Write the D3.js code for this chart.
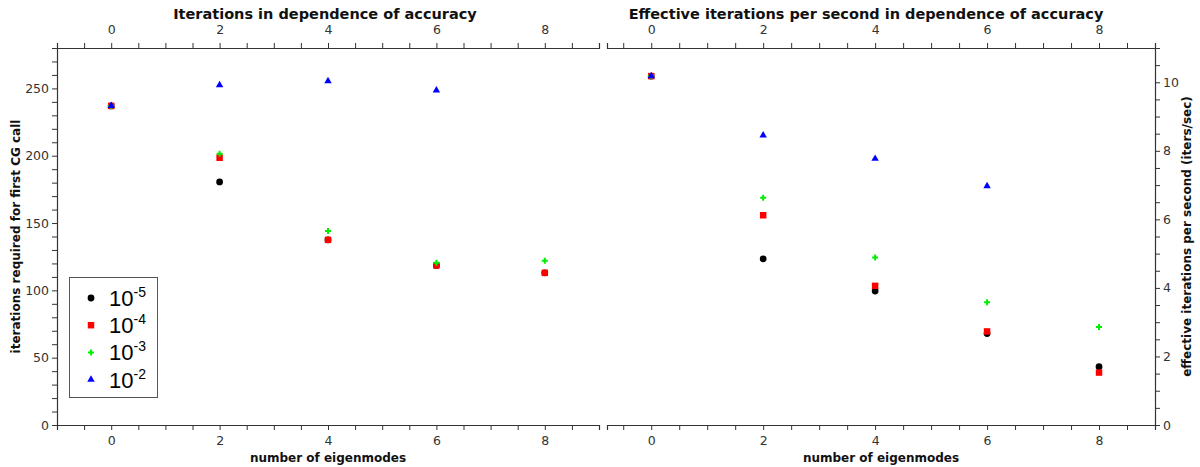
<!DOCTYPE html>
<html><head><meta charset="utf-8">
<script src="https://cdn.jsdelivr.net/npm/d3@7"></script>
<style>
html,body{margin:0;padding:0;background:#fff;}
svg{display:block;}
.tick text{font-family:"DejaVu Sans",sans-serif;font-size:12.5px;fill:#333;}
.domain,.tick line{stroke:#333;}
</style></head>
<body><svg id="c" width="1200" height="467"></svg>
<script>
// ---- data ----
const eigenmodes = [0, 2, 4, 6, 8];
const eigenmodesBlue = [0, 2, 4, 6];
const accuracyExp = ["-5", "-4", "-3", "-2"];
const iter_1e5 = [237, 180.5, 137.5, 118.5, 113];
const iter_1e4 = [237, 198.5, 137.5, 118.5, 113];
const iter_1e3 = [237, 201.5, 144, 120.5, 122];
const iter_1e2 = [237, 252.5, 255.5, 248.5];
const rate_1e5 = [10.18, 4.85, 3.91, 2.67, 1.70];
const rate_1e4 = [10.18, 6.12, 4.06, 2.73, 1.53];
const rate_1e3 = [10.18, 6.63, 4.89, 3.58, 2.86];
const rate_1e2 = [10.18, 8.45, 7.77, 6.97];
const xTicks = [0, 2, 4, 6, 8];
const iterTicks = [0, 50, 100, 150, 200, 250];
const rateTicks = [0, 2, 4, 6, 8, 10];
const titles = ["Iterations in dependence of accuracy", "Effective iterations per second in dependence of accuracy"];
const xLabel = "number of eigenmodes";
const yLabels = ["iterations required for first CG call", "effective iterations per second (iters/sec)"];

const svg = d3.select("#c");
const plotTop = 48, plotBottom = 425;
const colors = ["#000000", "#ff0000", "#00ee00", "#0000ff"];
const symbols = [d3.symbolCircle, d3.symbolSquare, d3.symbolCross, d3.symbolTriangle];
const sizes = [36, 42, 20, 24];

function minorRange(a, b, step) { const r = []; for (let v = a; v <= b + 1e-9; v += step) r.push(+v.toFixed(4)); return r; }

function panel(opts) {
  const x = d3.scaleLinear().domain(opts.xdom).range([opts.x0, opts.x1]);
  const y = d3.scaleLinear().domain(opts.ydom).range([plotBottom, plotTop]);
  const g = svg.append("g");
  const xMinor = minorRange(Math.ceil(opts.xdom[0] * 2) / 2, opts.xdom[1], 0.5);
  const ta = g.append("g").attr("transform", `translate(0,${plotTop})`)
    .call(d3.axisTop(x).tickValues(xMinor).tickSizeOuter(0).tickSize(5).tickFormat(d => xTicks.includes(d) ? d : ""));
  ta.selectAll("text").attr("dy", "-0.45em");
  const ba = g.append("g").attr("transform", `translate(0,${plotBottom})`)
    .call(d3.axisBottom(x).tickValues(xMinor).tickSizeOuter(0).tickSize(5).tickFormat(d => xTicks.includes(d) ? d : ""));
  ba.selectAll("text").attr("dy", "0.95em");
  const yMinor = minorRange(0, opts.ydom[1], opts.yminor);
  if (opts.side === "left") {
    g.append("g").attr("transform", `translate(${opts.x0},0)`)
      .call(d3.axisLeft(y).tickValues(yMinor).tickSizeOuter(0).tickSize(5).tickFormat(d => opts.yticks.includes(d) ? d : ""));
  } else {
    g.append("g").attr("transform", `translate(${opts.x1},0)`)
      .call(d3.axisRight(y).tickValues(yMinor).tickSizeOuter(0).tickSize(5).tickFormat(d => opts.yticks.includes(d) ? d : ""));
  }
  g.selectAll(".domain").attr("stroke", "#333").attr("stroke-width", 1.2);
  g.append("text").attr("x", opts.titleX).attr("y", 19).attr("text-anchor", "middle")
    .attr("font-family", "DejaVu Sans, sans-serif").attr("font-weight", "bold").attr("font-size", 14.5).attr("fill", "#111")
    .text(opts.title);
  g.append("text").attr("x", (opts.x0 + opts.x1) / 2).attr("y", 462).attr("text-anchor", "middle")
    .attr("font-family", "DejaVu Sans, sans-serif").attr("font-weight", "bold").attr("font-size", 12).attr("fill", "#111")
    .text(xLabel);
  g.append("text").attr("transform", `translate(${opts.ylabX},${(plotTop + plotBottom) / 2}) rotate(-90)`).attr("text-anchor", "middle")
    .attr("font-family", "DejaVu Sans, sans-serif").attr("font-weight", "bold").attr("font-size", 12).attr("fill", "#111")
    .text(opts.ylabel);
  opts.series.forEach((s, i) => {
    g.append("g").selectAll("path").data(s.vals).join("path")
      .attr("transform", (d, j) => `translate(${x(s.xs[j])},${y(d)})`)
      .attr("d", d3.symbol().type(symbols[i]).size(sizes[i]))
      .attr("fill", colors[i]);
  });
  return g;
}

panel({x0: 57, x1: 599, xdom: [-1, 9], ydom: [0, 280], yminor: 10, yticks: iterTicks, side: "left",
  title: titles[0], titleX: 325, ylabX: 20, ylabel: yLabels[0],
  series: [{xs: eigenmodes, vals: iter_1e5}, {xs: eigenmodes, vals: iter_1e4}, {xs: eigenmodes, vals: iter_1e3}, {xs: eigenmodesBlue, vals: iter_1e2}]});
panel({x0: 607, x1: 1155, xdom: [-0.79, 9], ydom: [0, 11], yminor: 0.5, yticks: rateTicks, side: "right",
  title: titles[1], titleX: 866, ylabX: 1191, ylabel: yLabels[1],
  series: [{xs: eigenmodes, vals: rate_1e5}, {xs: eigenmodes, vals: rate_1e4}, {xs: eigenmodes, vals: rate_1e3}, {xs: eigenmodesBlue, vals: rate_1e2}]});

const lg = svg.append("g");
lg.append("rect").attr("x", 69.5).attr("y", 277.5).attr("width", 88).attr("height", 120)
  .attr("fill", "#fff").attr("stroke", "#555").attr("stroke-width", 1);
accuracyExp.forEach((e, i) => {
  const cy = 298 + i * 27.2;
  lg.append("path").attr("transform", `translate(91,${cy})`)
    .attr("d", d3.symbol().type(symbols[i]).size(sizes[i])).attr("fill", colors[i]);
  const t = lg.append("text").attr("x", 109).attr("y", cy + 8)
    .attr("font-family", "Liberation Sans, Arial, sans-serif").attr("font-size", 22).attr("fill", "#000");
  t.append("tspan").text("10");
  t.append("tspan").attr("dy", -9).attr("font-size", 14).text(e);
});
</script></body></html>
